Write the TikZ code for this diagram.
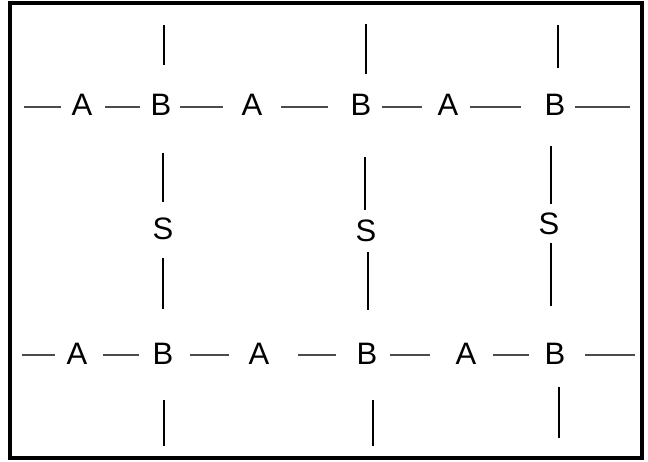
\documentclass[tikz,border=0pt]{standalone}
\usepackage{fontspec}
\setmainfont{Liberation Sans}
\begin{document}
\begin{tikzpicture}[x=1pt,y=-1pt,
  lbl/.style={inner sep=0pt,font=\fontsize{31}{33}\selectfont},
  hl/.style={draw=black!70,line width=1.4pt},
  vl/.style={draw=black,line width=1.3pt},
  frame/.style={draw=black,line width=4pt}]
\useasboundingbox (0,0) rectangle (648,461);
\draw[frame] (10,2.5) rectangle (641.5,458);
% row 1
\node[lbl] (a1) at (82,105) {A};
\node[lbl] (b1) at (161,105) {B};
\node[lbl] (a2) at (252,105) {A};
\node[lbl] (b2) at (361,105) {B};
\node[lbl] (a3) at (448,105) {A};
\node[lbl] (b3) at (555,105) {B};
% S
\node[lbl] (s1) at (163,229) {S};
\node[lbl] (s2) at (366,231) {S};
\node[lbl] (s3) at (549,224) {S};
% row 2
\node[lbl] (a4) at (77,354) {A};
\node[lbl] (b4) at (163,354) {B};
\node[lbl] (a5) at (259,354) {A};
\node[lbl] (b5) at (367,354) {B};
\node[lbl] (a6) at (466,354) {A};
\node[lbl] (b6) at (555,354) {B};
% row 1 horizontal segments
\foreach \i/\xa/\xb in {1/24/61,2/105/140,3/180/223,4/281/328,5/382/422,6/470/521,7/575/630}
  {\coordinate (p\i) at (\xa,107); \coordinate (q\i) at (\xb,107); \draw[hl] (p\i) -- (q\i);}
% row 2 horizontal segments
\foreach \i/\xa/\xb in {1/22/55,2/103/139,3/190/229,4/298/336,5/390/430,6/493/529,7/585/635}
  {\coordinate (u\i) at (\xa,355); \coordinate (w\i) at (\xb,355); \draw[hl] (u\i) -- (w\i);}
% vertical segments
\foreach \i/\x/\ya/\yb in {1/164/25/65,2/366/24/74,3/558/25/68,
  4/163/153/202,5/365/157/210,6/551/146/204,
  7/163/258/309,8/368/252/310,9/551/243/306,
  10/164/400/446,11/373/400/446,12/559/387/438}
  {\coordinate (m\i) at (\x,\ya); \coordinate (n\i) at (\x,\yb); \draw[vl] (m\i) -- (n\i);}
\end{tikzpicture}
\end{document}
